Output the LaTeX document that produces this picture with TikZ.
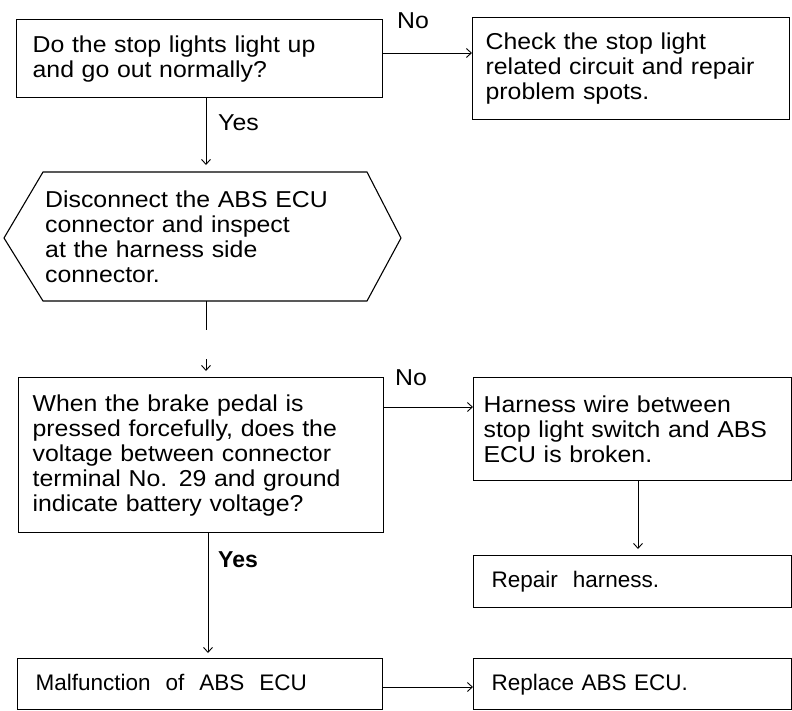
\documentclass[tikz,border=0pt]{standalone}
\usepackage{fontspec}
\setmainfont{Liberation Sans}
\newfontfamily\wfont[FakeStretch=1.08]{Liberation Sans}
\usetikzlibrary{arrows.meta}
\newcommand{\fixstrut}{\rule[-4pt]{0pt}{21pt}}
\tikzset{
  box/.style={draw, line width=1.3pt, rectangle, anchor=north west, align=left, inner ysep=0pt},
  plain/.style={rectangle, anchor=north west, align=left, inner ysep=0pt},
  conn/.style={line width=0.9pt},
  arr/.style={line width=0.9pt, -{Straight Barb[length=5pt,width=9pt]}},
  wtext/.style={font=\wfont\fontsize{23}{25}\selectfont},
  atext/.style={font=\fontsize{22.5}{25}\selectfont},
  lbl/.style={anchor=base west, inner sep=0pt},
}
\begin{document}
\begin{tikzpicture}[x=1pt,y=-1pt]
\useasboundingbox (0,0) rectangle (792,710);
% boxes
\node[box, wtext, minimum height=78pt, inner xsep=16pt, text width=334pt] (b1) at (16,19)
  {Do the stop lights light up\\and go out normally?};
\node[box, wtext, minimum height=102pt, inner xsep=13pt, text width=291pt] (b2) at (472,17)
  {Check the stop light\\related circuit and repair\\problem spots.};
\draw[line width=1.1pt] (4,238) -- (43,172) -- (367,172) -- (401,238) -- (367,301) -- (43,301) -- cycle;
\node[plain, wtext, minimum height=129pt, inner xsep=2pt, text width=320pt] (hex) at (43,172)
  {Disconnect the ABS ECU\\connector and inspect\\at the harness side\\connector.};
\node[box, wtext, minimum height=155pt, inner xsep=14pt, text width=337pt] (b3) at (18,377)
  {When the brake pedal is\\pressed forcefully, does the\\voltage between connector\\terminal No. 29 and ground\\indicate battery voltage?};
\node[box, wtext, minimum height=103pt, inner xsep=10pt, text width=298pt] (b4) at (473,377)
  {Harness wire between\\stop light switch and ABS\\ECU is broken.};
\node[box, atext, minimum height=52pt, inner xsep=18pt, text width=282pt] (b5) at (473,555)
  {\fixstrut Repair\ \ harness.};
\node[box, atext, minimum height=51pt, inner xsep=18pt, text width=329pt] (b6) at (17,658)
  {\fixstrut Malfunction\ \ of\ \ ABS\ \ ECU};
\node[box, atext, minimum height=51pt, inner xsep=18pt, text width=282pt] (b7) at (473,658)
  {\fixstrut Replace ABS ECU.};
% helper coordinates
\coordinate (xa) at (206,0);
\coordinate (xb) at (208,0);
\coordinate (xc) at (638,0);
\coordinate (ya) at (0,53);
\coordinate (yb) at (0,407);
\coordinate (yc) at (0,687);
\coordinate (gapend) at (206,330);
\coordinate (gapstart) at (206,359);
% connectors
\draw[arr, shorten >=7pt] (b1.south -| xa) -- (hex.north -| xa);
\draw[conn] (hex.south -| xa) -- (gapend);
\draw[arr, shorten >=6pt] (gapstart) -- (b3.north -| xa);
\draw[arr] (b1.east |- ya) -- (b2.west |- ya);
\draw[arr] (b3.east |- yb) -- (b4.west |- yb);
\draw[arr, shorten >=6pt] (b4.south -| xc) -- (b5.north -| xc);
\draw[arr, shorten >=5pt] (b3.south -| xb) -- (b6.north -| xb);
\draw[arr] (b6.east |- yc) -- (b7.west |- yc);
% labels
\node[lbl, wtext] (no1) at (397,28) {No};
\node[lbl, wtext] (no2) at (395,385) {No};
\node[lbl, wtext] (yes1) at (218,130) {Yes};
\node[lbl, font=\bfseries\fontsize{23}{25}\selectfont] (yes2) at (218,567) {Yes};
\end{tikzpicture}
\end{document}
